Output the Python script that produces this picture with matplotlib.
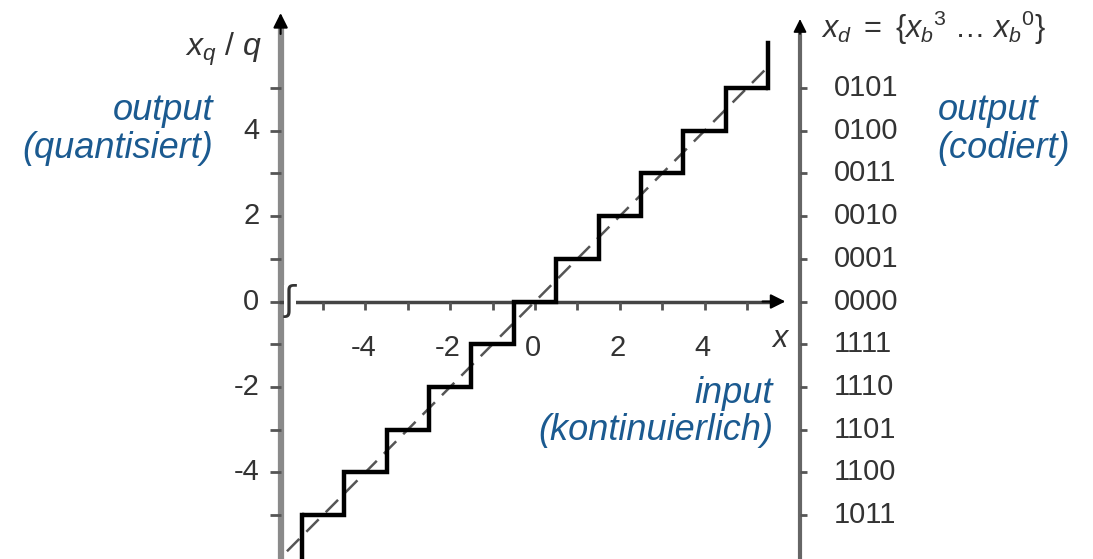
import numpy as np
import matplotlib
matplotlib.use("Agg")
import matplotlib.pyplot as plt

plt.rcParams['font.family'] = ['Liberation Sans', 'DejaVu Sans']
plt.rcParams['mathtext.fontset'] = 'custom'
plt.rcParams['mathtext.it'] = 'Liberation Sans:italic'
plt.rcParams['mathtext.rm'] = 'Liberation Sans'

# quantizer: levels and the input intervals (edges) they belong to
levels = [-5, -4, -3, -2, -1, 0, 1, 2, 3, 4, 5]
edges = [-5.5, -4.5, -3.5, -2.5, -1.5, -0.5, 0.5, 1.5, 2.5, 3.5, 4.5, 5.5]
codes = ['1011', '1100', '1101', '1110', '1111', '0000',
         '0001', '0010', '0011', '0100', '0101']
ramp_x = [-5.85, 5.55]

x_ticks = [-5, -4, -3, -2, -1, 0, 1, 2, 3, 4, 5]
x_labels = [-4, -2, 0, 2, 4]
y_ticks = [-5, -4, -3, -2, -1, 0, 1, 2, 3, 4, 5]
y_labels = [-4, -2, 0, 2, 4]

dark = '#333333'
blue = '#1b5a90'

fig = plt.figure(figsize=(10.93, 5.59), dpi=100)
ax = fig.add_axes([0, 0, 1, 1])
ax.set_xlim(-535 / 42.4, (1093 - 535) / 42.4)
ax.set_ylim(-(559 - 301.5) / 42.7, 301.5 / 42.7)
ax.axis('off')
ybot = ax.get_ylim()[0]

left_x, right_x = -6.0, 6.25

# left axis (gray line, black head)
ax.plot([left_x, left_x], [ybot, 6.5], color='#8a8a8a', lw=4.5, solid_capstyle='butt', zorder=2)
ax.annotate('', xy=(left_x, 6.82), xytext=(left_x, 6.2),
            arrowprops=dict(arrowstyle='-|>', color='black', lw=1.5, mutation_scale=22))
ax.hlines(y_ticks, left_x - 0.25, left_x, color='#555555', lw=2)

# right axis
ax.plot([right_x, right_x], [ybot, 6.5], color='#666666', lw=3, solid_capstyle='butt')
ax.annotate('', xy=(right_x, 6.68), xytext=(right_x, 6.2),
            arrowprops=dict(arrowstyle='-|>', color='black', lw=1.2, mutation_scale=20))
ax.hlines(y_ticks, right_x, right_x + 0.17, color='#555555', lw=2)

# x axis
ax.plot([left_x, 5.6], [0, 0], color='#444444', lw=2.5)
ax.annotate('', xy=(5.97, 0), xytext=(5.3, 0),
            arrowprops=dict(arrowstyle='-|>', color='black', lw=1.5, mutation_scale=22))
ax.vlines(x_ticks, -0.2, 0, color='#555555', lw=2)
ax.text(-5.78, 0, 'ʃ', ha='center', va='center', fontsize=26, color=dark,
        family=['DejaVu Sans'], bbox=dict(fc='white', ec='none', pad=0))

# quantizer staircase and ideal line
ax.stairs(levels, edges, baseline=None, color='black', lw=3.2, zorder=4)
ax.plot([edges[0], edges[0]], [ybot, levels[0]], color='black', lw=3.2, zorder=4)
ax.plot([edges[-1], edges[-1]], [levels[-1], 6.05], color='black', lw=3.2, zorder=4)
ax.plot(ramp_x, ramp_x, color='#555555', lw=1.8, dashes=(7, 4), zorder=3)

# tick labels
for v in y_labels:
    ax.text(-6.5, v, str(v), ha='right', va='center', fontsize=21, color=dark)
for v in x_labels:
    ax.text(v - 0.05, -1.1, str(v), ha='center', va='center', fontsize=21, color=dark)
for v, c in zip(levels, codes):
    ax.text(7.05, v, c, ha='left', va='center', fontsize=21, color=dark)

# axis titles
ax.text(-6.45, 5.9, r'$x_q\ /\ q$', ha='right', va='center', fontsize=23, color=dark)
ax.text(6.75, 6.4, r'$x_d\ =\ \{x_b{}^3\ \ldots\ x_b{}^0\}$', ha='left', va='center',
        fontsize=22, color=dark)
ax.text(5.8, -0.88, r'$x$', ha='center', va='center', fontsize=22, color=dark)

# blue annotations
ax.text(-7.59, 4.02, 'output\n(quantisiert)', ha='right', va='center', ma='right',
        fontsize=26, style='italic', color=blue, linespacing=1.1)
ax.text(9.5, 4.02, 'output\n(codiert)', ha='left', va='center', ma='left',
        fontsize=26, style='italic', color=blue, linespacing=1.1)
ax.text(5.61, -2.59, 'input\n(kontinuierlich)', ha='right', va='center', ma='right',
        fontsize=26, style='italic', color=blue, linespacing=1.1)

fig.savefig('out.png', dpi=100)
